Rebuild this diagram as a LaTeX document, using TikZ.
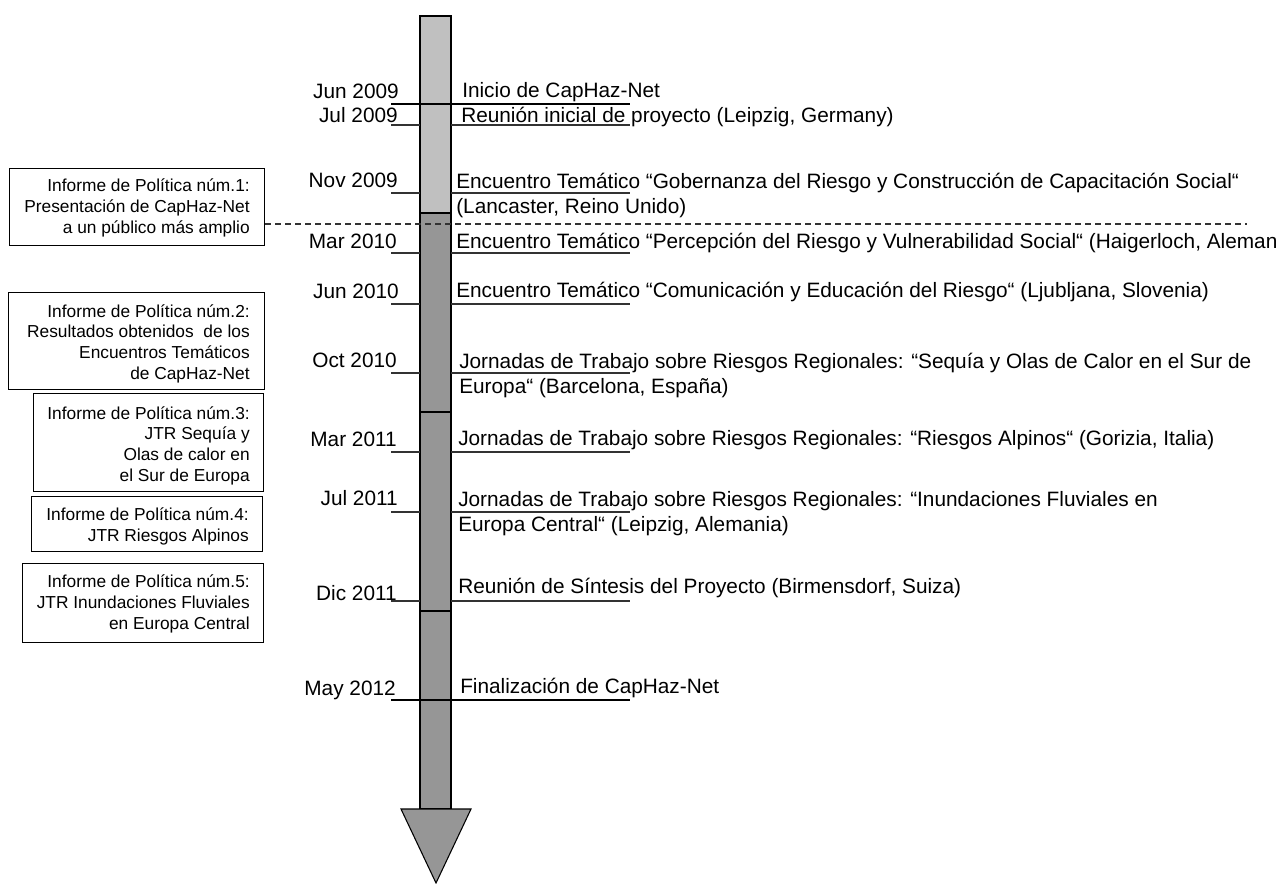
\documentclass[tikz,border=0pt]{standalone}
\usepackage{fontspec}
\setmainfont{Liberation Sans}
\definecolor{lightbar}{RGB}{192,192,192}
\definecolor{darkbar}{RGB}{150,150,150}
\definecolor{tickgray}{RGB}{50,50,50}
\begin{document}
\begin{tikzpicture}[x=0.75pt,y=-0.75pt,
  datelbl/.style={font=\fontsize{15.6}{18.75}\selectfont, inner sep=0pt, anchor=base east},
  evtlbl/.style={font=\fontsize{15.6}{18.75}\selectfont, inner sep=0pt, anchor=base west, align=left},
  boxframe/.style={draw, line width=0.8pt, inner sep=0pt, anchor=north west},
  boxtxt/.style={font=\fontsize{13}{15.5}\selectfont, inner sep=0pt, anchor=base east, align=right},
  seg/.style={draw, line width=0.8pt},
  thintick/.style={draw=tickgray, line width=1pt},
  bigtick/.style={draw=black, line width=2pt},
  dashline/.style={draw=tickgray, line width=1pt, dash pattern=on 4.5pt off 3pt}]
\fill[white] (0,0) rectangle (1277,883);
\useasboundingbox (0,0) rectangle (1277,883);

% timeline bar
\draw[seg, fill=lightbar] (420,16) rectangle (451,213);
\draw[seg, fill=darkbar] (420,213) rectangle (451,412);
\draw[seg, fill=darkbar] (420,412) rectangle (451,611);
\draw[seg, fill=darkbar] (420,611) rectangle (451,809);
\draw[seg, fill=darkbar, line join=miter] (401,809) -- (471,809) -- (436,883) -- cycle;

% ticks
\foreach \y in {125,193,253,304,373,452,512,601}{
  \draw[thintick] (391,\y) -- (420,\y);
  \draw[thintick] (451,\y) -- (630,\y);
}
\draw[bigtick] (391,104) -- (630,104);
\draw[bigtick] (391,700) -- (630,700);

% dates
\node[datelbl] (d1) at (399,98) {Jun 2009};
\node[datelbl] (d2) at (398,122) {Jul 2009};
\node[datelbl] (d3) at (398,187) {Nov 2009};
\node[datelbl] (d4) at (397,248) {Mar 2010};
\node[datelbl] (d5) at (399,298) {Jun 2010};
\node[datelbl] (d6) at (397,367) {Oct 2010};
\node[datelbl] (d7) at (397,446) {Mar 2011};
\node[datelbl] (d8) at (398,505) {Jul 2011};
\node[datelbl] (d9) at (397,600) {Dic 2011};
\node[datelbl] (d10) at (396,695) {May 2012};

% events (multi-line nodes: base = baseline of last line)
\node[evtlbl] (e1) at (462,97) {Inicio de CapHaz-Net};
\node[evtlbl] (e2) at (461,122) {Reunión inicial de proyecto (Leipzig, Germany)};
\node[evtlbl] (e3) at (456,213) {Encuentro Temático “Gobernanza del Riesgo y Construcción de Capacitación Social“\\(Lancaster, Reino Unido)};
\node[evtlbl] (e4) at (456,248) {Encuentro Temático “Percepción del Riesgo y Vulnerabilidad Social“ (Haigerloch, Alemania)};
\node[evtlbl] (e5) at (456,297) {Encuentro Temático “Comunicación y Educación del Riesgo“ (Ljubljana, Slovenia)};
\node[evtlbl] (e6) at (459,393) {Jornadas de Trabajo sobre Riesgos Regionales: “Sequía y Olas de Calor en el Sur de\\Europa“ (Barcelona, España)};
\node[evtlbl] (e7) at (458,445) {Jornadas de Trabajo sobre Riesgos Regionales: “Riesgos Alpinos“ (Gorizia, Italia)};
\node[evtlbl] (e8) at (458,531) {Jornadas de Trabajo sobre Riesgos Regionales: “Inundaciones Fluviales en\\Europa Central“ (Leipzig, Alemania)};
\node[evtlbl] (e9) at (458,593) {Reunión de Síntesis del Proyecto (Birmensdorf, Suiza)};
\node[evtlbl] (e10) at (460,693) {Finalización de CapHaz-Net};

% policy brief boxes
\node[boxframe, minimum width=191.25pt, minimum height=57.75pt] (b1) at (9,168) {};
\node[boxtxt] (t1) at (250,233) {Informe de Política núm.1:\\Presentación de CapHaz-Net\\a un público más amplio};
\node[boxframe, minimum width=192pt, minimum height=72.75pt] (b2) at (8,292) {};
\node[boxtxt] (t2) at (250,379) {Informe de Política núm.2:\\Resultados obtenidos\ \ de los\ \\Encuentros Temáticos\\de CapHaz-Net};
\node[boxframe, minimum width=172.5pt, minimum height=73.5pt] (b3) at (33,393) {};
\node[boxtxt] (t3) at (250,481) {Informe de Política núm.3:\\JTR Sequía y\ \\Olas de calor en\ \\el Sur de Europa};
\node[boxframe, minimum width=173.25pt, minimum height=41.25pt] (b4) at (31,496) {};
\node[boxtxt] (t4) at (249,541) {Informe de Política núm.4:\\JTR Riesgos Alpinos};
\node[boxframe, minimum width=180.75pt, minimum height=59.25pt] (b5) at (22,563) {};
\node[boxtxt] (t5) at (250,629) {Informe de Política núm.5:\\JTR Inundaciones Fluviales\\en Europa Central};

% dashed separator
\coordinate (dashend) at (1247,224);
\draw[dashline] (b1.east |- dashend) -- (dashend);
\end{tikzpicture}
\end{document}
